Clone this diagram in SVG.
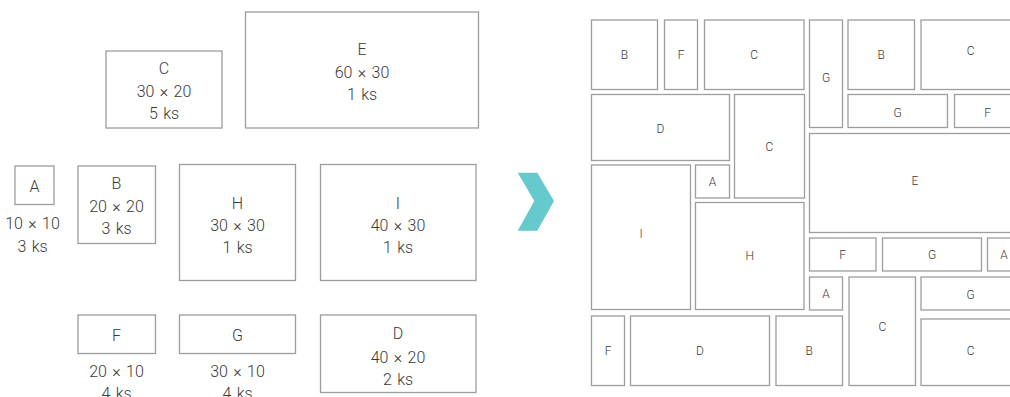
<svg xmlns="http://www.w3.org/2000/svg" width="1010" height="397" viewBox="0 0 1010 397">
<style>
rect{fill:#fff;stroke:#9d9d9d;stroke-width:1.3}
text{font-family:Roboto,"Liberation Sans",sans-serif;font-weight:300;fill:#3a3a3a;text-anchor:middle}
.l{font-size:16px;word-spacing:1.5px}
.s{font-size:12px}
</style>
<rect x="0" y="0" width="1010" height="397" style="stroke:none"/>
<g id="pieces">
<g id="piece-C"><rect x="106" y="51" width="116" height="77"/><text class="l" x="164" y="74">C</text><text class="l" x="164" y="96.5">30 × 20</text><text class="l" x="164" y="119">5 ks</text></g>
<g id="piece-E"><rect x="245.5" y="12" width="233" height="116"/><text class="l" x="362" y="55">E</text><text class="l" x="362" y="77.5">60 × 30</text><text class="l" x="362" y="100">1 ks</text></g>
<g id="piece-A"><rect x="15" y="166" width="39" height="38.5"/><text class="l" x="34.5" y="192">A</text><text class="l" x="32.5" y="229">10 × 10</text><text class="l" x="32.5" y="251.5">3 ks</text></g>
<g id="piece-B"><rect x="78" y="166" width="77.5" height="77.5"/><text class="l" x="116.5" y="189">B</text><text class="l" x="116.5" y="211.5">20 × 20</text><text class="l" x="116.5" y="234">3 ks</text></g>
<g id="piece-H"><rect x="179.5" y="164.5" width="116" height="116"/><text class="l" x="237.5" y="208.5">H</text><text class="l" x="237.5" y="231">30 × 30</text><text class="l" x="237.5" y="253">1 ks</text></g>
<g id="piece-I"><rect x="320.5" y="164.5" width="155.5" height="116"/><text class="l" x="398" y="208.5">I</text><text class="l" x="398" y="231">40 × 30</text><text class="l" x="398" y="253">1 ks</text></g>
<g id="piece-F"><rect x="78" y="315" width="77.5" height="38.5"/><text class="l" x="116.5" y="341">F</text><text class="l" x="116.5" y="376.5">20 × 10</text><text class="l" x="116.5" y="399">4 ks</text></g>
<g id="piece-G"><rect x="179.5" y="315" width="116" height="38.5"/><text class="l" x="237.5" y="341">G</text><text class="l" x="237.5" y="376.5">30 × 10</text><text class="l" x="237.5" y="399">4 ks</text></g>
<g id="piece-D"><rect x="320.5" y="315" width="155.5" height="77.5"/><text class="l" x="398" y="339">D</text><text class="l" x="398" y="362.5">40 × 20</text><text class="l" x="398" y="385">2 ks</text></g>
</g>
<g id="arrow"><polygon points="517.7,172.7 537.3,172.7 554,201 537.3,230.7 517.7,230.7 534.3,201" fill="#66c9cd"/></g>
<g id="layout">
<g id="pack-B1"><rect x="591.5" y="20" width="66" height="69.5"/><text class="s" x="624.5" y="58.5">B</text></g>
<g id="pack-F1"><rect x="664.5" y="20" width="33" height="69.5"/><text class="s" x="681" y="58.5">F</text></g>
<g id="pack-C1"><rect x="704.5" y="20" width="99.5" height="69.5"/><text class="s" x="754.2" y="58.5">C</text></g>
<g id="pack-G1"><rect x="809.5" y="20" width="33" height="107.5"/><text class="s" x="826" y="81.5">G</text></g>
<g id="pack-B2"><rect x="848" y="20" width="66.5" height="69.5"/><text class="s" x="881.2" y="58.5">B</text></g>
<g id="pack-C2"><rect x="921" y="20" width="100" height="69.5"/><text class="s" x="970.7" y="55">C</text></g>
<g id="pack-D1"><rect x="591.5" y="94.5" width="138" height="66"/><text class="s" x="660.5" y="133.3">D</text></g>
<g id="pack-C3"><rect x="734.5" y="94.5" width="70" height="103.5"/><text class="s" x="769.5" y="151">C</text></g>
<g id="pack-G2"><rect x="848" y="94.5" width="99.5" height="33"/><text class="s" x="897.5" y="117">G</text></g>
<g id="pack-F2"><rect x="954.5" y="94.5" width="66" height="33"/><text class="s" x="987.5" y="117">F</text></g>
<g id="pack-E1"><rect x="809.5" y="133.5" width="211" height="99"/><text class="s" x="915" y="184.6">E</text></g>
<g id="pack-I1"><rect x="591.5" y="165" width="99" height="144.5"/><text class="s" x="641" y="238">I</text></g>
<g id="pack-A1"><rect x="695.5" y="165" width="34" height="33"/><text class="s" x="712.5" y="186">A</text></g>
<g id="pack-H1"><rect x="695.5" y="202.5" width="108.5" height="107"/><text class="s" x="749.7" y="259.6">H</text></g>
<g id="pack-F3"><rect x="809.5" y="238" width="66.5" height="33"/><text class="s" x="842.5" y="258.6">F</text></g>
<g id="pack-G3"><rect x="882.5" y="238" width="99" height="33"/><text class="s" x="932" y="258.6">G</text></g>
<g id="pack-A2"><rect x="987.5" y="238" width="33" height="33"/><text class="s" x="1004" y="258.6">A</text></g>
<g id="pack-A3"><rect x="809.5" y="277" width="33" height="33"/><text class="s" x="826" y="298">A</text></g>
<g id="pack-C4"><rect x="849" y="277" width="66.5" height="108.5"/><text class="s" x="882.3" y="331">C</text></g>
<g id="pack-G4"><rect x="921" y="277" width="100" height="33"/><text class="s" x="970.7" y="299">G</text></g>
<g id="pack-C5"><rect x="921" y="319" width="100" height="66.5"/><text class="s" x="970.7" y="355">C</text></g>
<g id="pack-F4"><rect x="591.5" y="316" width="33" height="69.5"/><text class="s" x="608" y="355">F</text></g>
<g id="pack-D2"><rect x="630.5" y="316" width="139" height="69.5"/><text class="s" x="700" y="355">D</text></g>
<g id="pack-B3"><rect x="776" y="316" width="66.5" height="69.5"/><text class="s" x="809.2" y="355">B</text></g>
</g>
</svg>
